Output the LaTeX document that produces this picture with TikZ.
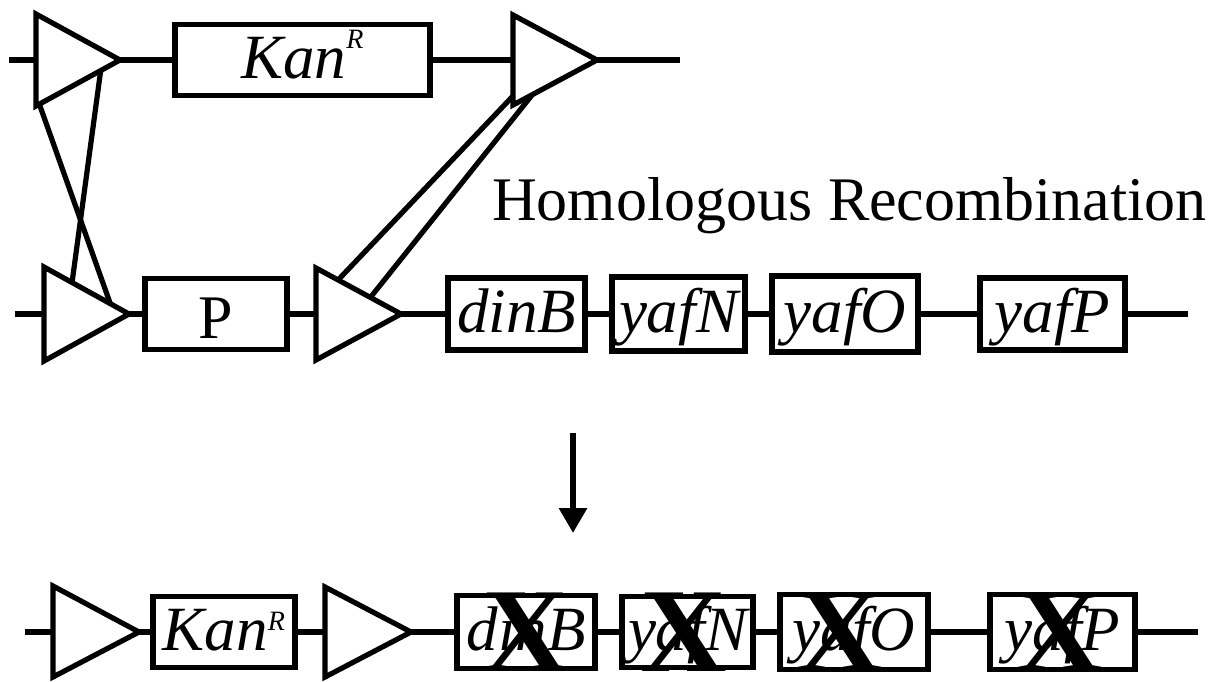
\documentclass[tikz,border=0pt]{standalone}
\usepackage{fontspec}
\setmainfont{Liberation Serif}
\usetikzlibrary{arrows.meta,calc}
\newcommand\supR[2]{\raisebox{#1}{\fontsize{#2}{#2}\selectfont R}}
\begin{document}
\begin{tikzpicture}[x=1pt,y=-1pt,
  ln/.style={line width=5.2pt},
  tri/.style={line width=5.2pt, line join=miter},
  gene/.style={draw, line width=5.2pt, inner sep=0pt,
    font=\fontsize{63}{63}\selectfont\itshape,
    text height=46pt, text depth=10pt},
  prom/.style={gene, font=\fontsize{62}{62}\selectfont, text height=50pt, text depth=2pt},
  xmark/.style={inner sep=0pt, font=\fontsize{120}{120}\selectfont\bfseries},
  arr/.style={line width=6pt, -{Triangle[width=27pt,length=25pt]}}
]
\fill[white] (0,0) rectangle (1217,681);
\useasboundingbox (0,0) rectangle (1217,681);

% ---------- top row (y = 60) ----------
\coordinate (A1) at (36,14);  \coordinate (A2) at (36,106);  \coordinate (A3) at (120,60);
\coordinate (B1) at (513,15); \coordinate (B2) at (513,105); \coordinate (B3) at (597,60);
\coordinate (Am) at (36,60);  \coordinate (Bm) at (513,60);
\coordinate (ts) at (9,60);   \coordinate (te) at (680,60);
\draw[tri] (A1) -- (A3) -- (A2) -- cycle;
\draw[tri] (B1) -- (B3) -- (B2) -- cycle;
\node[gene, minimum width=255pt, minimum height=71pt] (kan1) at (302.5,60) {Kan\supR{30pt}{28}};
\draw[ln] (ts) -- (Am);
\draw[ln] (A3) -- (kan1.west);
\draw[ln] (kan1.east) -- (Bm);
\draw[ln] (B3) -- (te);

% ---------- middle row (y = 314) ----------
\coordinate (C1) at (44,267);  \coordinate (C2) at (44,361);  \coordinate (C3) at (129,314);
\coordinate (D1) at (316,268); \coordinate (D2) at (316,360); \coordinate (D3) at (401,314);
\coordinate (Cm) at (44,314);  \coordinate (Dm) at (316,314);
\coordinate (ms) at (15,314);  \coordinate (me) at (1188,314);
\draw[tri] (C1) -- (C3) -- (C2) -- cycle;
\draw[tri] (D1) -- (D3) -- (D2) -- cycle;
\node[prom, minimum width=142pt, minimum height=71pt] (P) at (216,314) {P};
\node[gene, minimum width=137pt, minimum height=72pt] (dinB1) at (516.5,314) {dinB};
\node[gene, minimum width=133pt, minimum height=74pt] (yafN1) at (678.5,314) {yafN};
\node[gene, minimum width=146pt, minimum height=76pt] (yafO1) at (845,314) {yafO};
\node[gene, minimum width=145pt, minimum height=72pt] (yafP1) at (1052.5,314) {yafP};
\draw[ln] (ms) -- (Cm);
\draw[ln] (C3) -- (P.west);
\draw[ln] (P.east) -- (Dm);
\draw[ln] (D3) -- (dinB1.west);
\draw[ln] (dinB1.east) -- (yafN1.west);
\draw[ln] (yafN1.east) -- (yafO1.west);
\draw[ln] (yafO1.east) -- (yafP1.west);
\draw[ln] (yafP1.east) -- (me);

% ---------- crossing lines ----------
\coordinate (x1s) at ($(A2)!0.04!(A3)$);
\coordinate (x1e) at ($(C1)!0.78!(C3)$);
\coordinate (x2s) at ($(A2)!0.77!(A3)$);
\coordinate (x2e) at ($(C1)!0.33!(C3)$);
\coordinate (x3s) at ($(B1)!0.9!(B2)$);
\coordinate (x3e) at ($(D1)!0.26!(D3)$);
\coordinate (x4s) at ($(B2)!0.23!(B3)$);
\coordinate (x4e) at ($(D1)!0.64!(D3)$);
\draw[ln] (x1s) -- (x1e);
\draw[ln] (x2s) -- (x2e);
\draw[ln] (x3s) -- (x3e);
\draw[ln] (x4s) -- (x4e);

\node[anchor=base west, inner sep=0pt, font=\fontsize{62}{62}\selectfont] (hr) at (492,220) {Homologous Recombination};

% ---------- arrow ----------
\coordinate (a1) at (573,433); \coordinate (a2) at (573,533);
\draw[arr] (a1) -- (a2);

% ---------- bottom row (y = 632) ----------
\coordinate (E1) at (53,586);  \coordinate (E2) at (53,677);  \coordinate (E3) at (139,632);
\coordinate (F1) at (325,587); \coordinate (F2) at (325,677); \coordinate (F3) at (411,632);
\coordinate (Em) at (53,632);  \coordinate (Fm) at (325,632);
\coordinate (bs) at (25,632);  \coordinate (be) at (1198,632);
\draw[tri] (E1) -- (E3) -- (E2) -- cycle;
\draw[tri] (F1) -- (F3) -- (F2) -- cycle;
\node[gene, minimum width=142pt, minimum height=71pt] (kan2) at (224,632) {Kan\supR{20pt}{28}};
\node[gene, minimum width=138pt, minimum height=73pt] (dinB2) at (526,632) {dinB};
\node[gene, minimum width=131pt, minimum height=71pt] (yafN2) at (687.5,632) {yafN};
\node[gene, minimum width=148pt, minimum height=75pt] (yafO2) at (854,632) {yafO};
\node[gene, minimum width=145pt, minimum height=75pt] (yafP2) at (1062.5,632) {yafP};
\draw[ln] (bs) -- (Em);
\draw[ln] (E3) -- (kan2.west);
\draw[ln] (kan2.east) -- (Fm);
\draw[ln] (F3) -- (dinB2.west);
\draw[ln] (dinB2.east) -- (yafN2.west);
\draw[ln] (yafN2.east) -- (yafO2.west);
\draw[ln] (yafO2.east) -- (yafP2.west);
\draw[ln] (yafP2.east) -- (be);

\node[xmark] (X1) at (526,632) {X};
\node[xmark] (X2) at (684,632) {X};
\node[xmark] (X3) at (840,632) {X};
\node[xmark] (X4) at (1060,632) {X};
\end{tikzpicture}
\end{document}
